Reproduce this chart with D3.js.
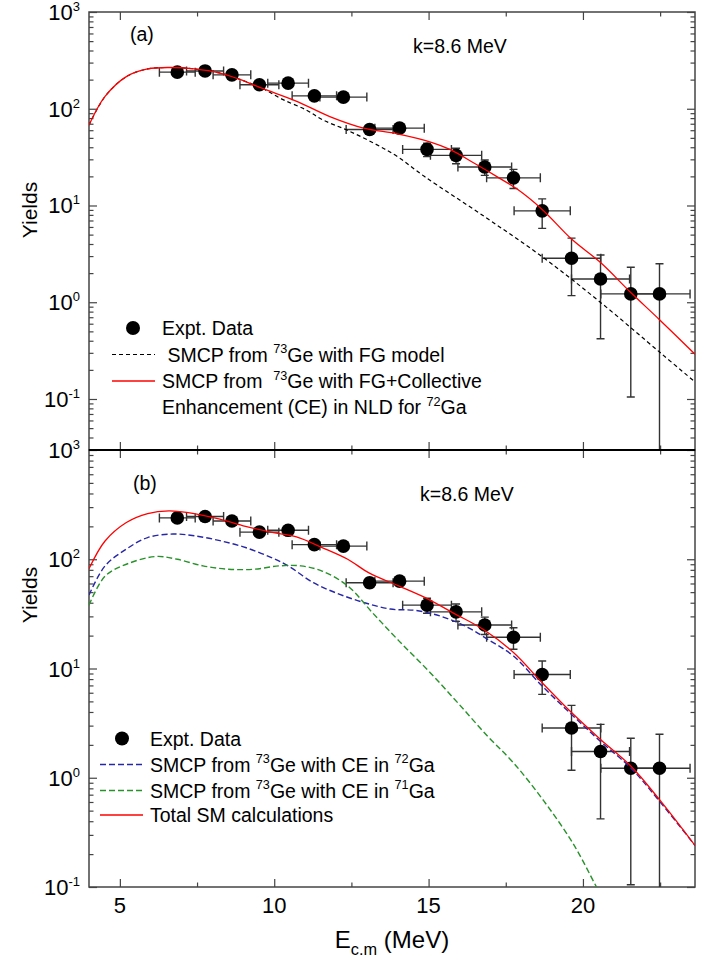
<!DOCTYPE html>
<html>
<head>
<meta charset="utf-8">
<script src="https://cdn.jsdelivr.net/npm/d3@7"></script>
<style>
  body { margin: 0; background: #fff; }
  text { font-family: "Liberation Sans", Arial, sans-serif; fill: #000; }
</style>
</head>
<body>
<div id="graph"></div>
<script>
// experimental points (same in both panels)
var energies  = [6.86, 7.76, 8.63, 9.52, 10.45, 11.30, 12.24, 13.09, 14.06, 14.95, 15.89, 16.82, 17.75, 18.68, 19.63, 20.57, 21.55, 22.48];
var yields    = [239, 246, 224, 177, 184, 136, 132, 61, 63, 38, 33, 25, 19.3, 8.8, 2.85, 1.74, 1.22, 1.22];
var energyErr = [0.58, 0.60, 0.61, 0.63, 0.66, 0.72, 0.76, 0.76, 0.80, 0.79, 0.83, 0.87, 0.87, 0.91, 0.95, 0.94, 0.97, 0.99];
var yieldLow  = [227, 234, 213, 167, 174, 128, 124, 55, 57, 32, 27, 20.5, 15, 5.8, 1.17, 0.42, 0.105, 0.01];
var yieldHigh = [251, 258, 235, 187, 194, 144, 140, 67, 69, 44, 39, 29.5, 23.6, 11.7, 4.6, 3.08, 2.3, 2.5];

// panel (a)
var fgE = [4.0, 4.52, 5.21, 5.9, 6.59, 7.41, 8.24, 8.93, 9.62, 10.27, 11.04, 11.58, 12.35, 13.23, 13.99, 14.87, 16.79, 18.72, 20.58, 22.51, 23.63];
var fgY = [68, 134, 215, 258, 267, 258, 234, 199, 162, 125, 97, 76.5, 60.3, 44, 32, 19.9, 7.76, 2.89, 0.99, 0.30, 0.15];
var fgCeE = [4.0, 4.52, 5.21, 5.9, 6.59, 7.41, 8.24, 8.93, 9.62, 10.71, 11.8, 12.9, 13.99, 15.09, 15.69, 16.51, 17.2, 17.89, 18.68, 19.63, 20.57, 21.55, 22.48, 23.63];
var fgCeY = [68, 134, 215, 258, 267, 258, 234, 199, 162, 120, 83, 63, 55, 45, 38, 27, 20, 14.6, 9.1, 4.5, 2.57, 1.26, 0.66, 0.29];

// panel (b)
var ce72E = [4.0, 4.52, 5.21, 5.9, 6.72, 7.41, 8.24, 9.07, 9.89, 10.45, 11.27, 12.1, 12.93, 13.76, 14.58, 15.41, 16.24, 16.93, 17.75, 18.68, 19.63, 20.57, 21.55, 22.48, 23.63];
var ce72Y = [47, 87, 124, 158, 170, 164, 148, 128, 104, 87, 61, 48, 40, 35, 34, 30, 24, 18.4, 13, 6.9, 3.8, 2.15, 1.23, 0.61, 0.24];
var ce71E = [4.0, 4.52, 5.21, 6.17, 6.86, 7.69, 8.52, 9.34, 10.17, 10.86, 11.55, 12.38, 13.2, 14.03, 15.0, 15.96, 16.93, 17.75, 18.72, 19.68, 20.44, 20.8];
var ce71Y = [38, 70, 90, 106, 100, 87, 81, 81, 87, 87, 78, 57, 32, 18, 9.5, 4.8, 2.37, 1.37, 0.62, 0.25, 0.1, 0.065];
var totalE = [4.0, 4.52, 5.21, 5.9, 6.59, 7.41, 8.24, 9.07, 9.89, 10.72, 11.55, 12.38, 13.07, 14.03, 15.0, 15.82, 16.79, 17.75, 18.68, 19.63, 20.57, 21.55, 22.48, 23.63];
var totalY = [82, 147, 217, 262, 277, 262, 233, 200, 177, 160, 128, 100, 75, 57, 43, 32, 22.6, 14, 7.4, 3.95, 2.24, 1.28, 0.63, 0.24];

var xMajor = [5, 10, 15, 20];
var xMinor = [7.5, 12.5, 17.5, 22.5];
var yExponents = [3, 2, 1, 0, -1];

var width = 710, height = 961,
    left = 89, right = 695,
    axisColor = "#444",
    fontSize = 19.5,
    font = fontSize + "px";

var svg = d3.select("#graph").append("svg")
    .attr("width", width)
    .attr("height", height);

var x = d3.scaleLinear().domain([4, 23.63]).range([left, right]);

function zip(es, ys) {
    return es.map(function (e, i) { return {e: e, y: ys[i]}; });
}

// text with superscript / subscript pieces: [["SMCP from "], ["73", "sup"], ...]
function richText(sel, parts, size) {
    parts.forEach(function (p) {
        var t = sel.append("tspan").text(p[0]);
        if (p[1] === "sup") t.attr("dy", -size * 0.42).style("font-size", (size * 0.65) + "px");
        else if (p[1] === "sub") t.attr("dy", size * 0.3).style("font-size", (size * 0.68) + "px");
        else if (p[1] === "back") t.attr("dy", size * 0.42);
        else if (p[1] === "up") t.attr("dy", -size * 0.3);
    });
    return sel;
}

function drawPanel(p) {
    var y = d3.scaleLog().domain(p.yDomain).range([p.bottom, p.top]);
    var g = svg.append("g");

    svg.append("clipPath").attr("id", "clip-" + p.name)
        .append("rect")
        .attr("x", left).attr("y", p.top)
        .attr("width", right - left).attr("height", p.bottom - p.top);

    // frame
    g.append("rect")
        .attr("x", left).attr("y", p.top)
        .attr("width", right - left).attr("height", p.bottom - p.top)
        .attr("fill", "none").attr("stroke", axisColor).attr("stroke-width", 1.5);

    // y ticks, inward on both sides
    var minor = [];
    for (var d = -2; d < 3; d++) {
        for (var m = 2; m < 10; m++) {
            var v = m * Math.pow(10, d);
            if (v >= p.yDomain[0] && v <= p.yDomain[1]) minor.push(v);
        }
    }
    var major = yExponents.map(function (k) { return Math.pow(10, k); });
    [[left, d3.axisLeft], [right, d3.axisRight]].forEach(function (s) {
        var a1 = g.append("g").attr("transform", "translate(" + s[0] + ",0)")
            .call(s[1](y).tickValues(major).tickSize(-8).tickSizeOuter(0).tickFormat(""));
        var a2 = g.append("g").attr("transform", "translate(" + s[0] + ",0)")
            .call(s[1](y).tickValues(minor).tickSize(-4.5).tickSizeOuter(0).tickFormat(""));
        [a1, a2].forEach(function (a) {
            a.select(".domain").remove();
            a.selectAll("line").attr("stroke", axisColor).attr("stroke-width", 1.2);
        });
    });

    // x ticks, inward on top and bottom
    [[p.top, d3.axisTop], [p.bottom, d3.axisBottom]].forEach(function (s) {
        var a1 = g.append("g").attr("transform", "translate(0," + s[0] + ")")
            .call(s[1](x).tickValues(xMajor).tickSize(-8).tickSizeOuter(0).tickFormat(""));
        var a2 = g.append("g").attr("transform", "translate(0," + s[0] + ")")
            .call(s[1](x).tickValues(xMinor).tickSize(-4.5).tickSizeOuter(0).tickFormat(""));
        [a1, a2].forEach(function (a) {
            a.select(".domain").remove();
            a.selectAll("line").attr("stroke", axisColor).attr("stroke-width", 1.2);
        });
    });

    // y tick labels 10^n
    g.selectAll(".ylab")
        .data(p.labels)
        .enter()
        .append("text")
        .attr("x", 80)
        .attr("y", function (k) { return y(Math.pow(10, k)) + 8; })
        .attr("text-anchor", "end")
        .style("font-size", "22px")
        .each(function (k) {
            var t = d3.select(this);
            t.append("tspan").text("10");
            t.append("tspan").text(k).attr("dy", -9).style("font-size", "13px");
        });

    // "Yields"
    g.append("text")
        .attr("transform", "translate(37," + p.titleY + ") rotate(-90)")
        .attr("text-anchor", "middle")
        .style("font-size", "21px")
        .text("Yields");

    g.append("text").attr("x", p.tagX).attr("y", p.tagY)
        .style("font-size", font).text(p.tag);
    g.append("text").attr("x", p.kX).attr("y", p.kY)
        .style("font-size", font).text("k=8.6 MeV");

    var plot = g.append("g").attr("clip-path", "url(#clip-" + p.name + ")");
    var pts = energies.map(function (e, i) {
        return {e: e, y: yields[i], dx: energyErr[i], lo: yieldLow[i], hi: yieldHigh[i]};
    });

    // error bars
    var bars = plot.selectAll(".bar").data(pts).enter().append("g")
        .attr("stroke", "#333").attr("stroke-width", 1.4).attr("fill", "none");
    bars.append("line")
        .attr("x1", function (d) { return x(d.e - d.dx); })
        .attr("x2", function (d) { return x(d.e + d.dx); })
        .attr("y1", function (d) { return y(d.y); })
        .attr("y2", function (d) { return y(d.y); });
    bars.append("path")
        .attr("d", function (d) {
            var yy = y(d.y);
            return "M" + x(d.e - d.dx) + "," + (yy - 4.5) + "V" + (yy + 4.5) +
                   "M" + x(d.e + d.dx) + "," + (yy - 4.5) + "V" + (yy + 4.5);
        });
    bars.append("line")
        .attr("x1", function (d) { return x(d.e); })
        .attr("x2", function (d) { return x(d.e); })
        .attr("y1", function (d) { return y(d.lo); })
        .attr("y2", function (d) { return y(d.hi); });
    bars.append("path")
        .attr("d", function (d) {
            var xx = x(d.e);
            return "M" + (xx - 4) + "," + y(d.lo) + "H" + (xx + 4) +
                   "M" + (xx - 4) + "," + y(d.hi) + "H" + (xx + 4);
        });

    plot.selectAll(".pt").data(pts).enter().append("circle")
        .attr("cx", function (d) { return x(d.e); })
        .attr("cy", function (d) { return y(d.y); })
        .attr("r", 6.8)
        .attr("fill", "#000");

    var line = d3.line()
        .x(function (d) { return x(d.e); })
        .y(function (d) { return y(d.y); })
        .curve(d3.curveCatmullRom.alpha(0.5));

    p.curves.forEach(function (c) {
        plot.append("path")
            .datum(c.data)
            .attr("fill", "none")
            .attr("stroke", c.color)
            .attr("stroke-width", c.width)
            .attr("stroke-dasharray", c.dash)
            .attr("d", line);
    });

    // legend
    var lg = g.append("g");
    lg.append("circle").attr("cx", p.legend.dotX).attr("cy", p.legend.dotY).attr("r", 7).attr("fill", "#000");
    lg.append("text").attr("x", p.legend.textX).attr("y", p.legend.dotY + 7)
        .style("font-size", font).text("Expt. Data");
    p.legend.rows.forEach(function (r) {
        if (r.curve) {
            lg.append("line")
                .attr("x1", p.legend.lineX[0]).attr("x2", p.legend.lineX[1])
                .attr("y1", r.y).attr("y2", r.y)
                .attr("stroke", r.curve.color)
                .attr("stroke-width", r.curve.width)
                .attr("stroke-dasharray", r.curve.dash);
        }
        richText(lg.append("text")
            .attr("x", p.legend.textX).attr("y", r.y + 7)
            .style("font-size", font).style("white-space", "pre"), r.parts, fontSize);
    });
}

var styleFG   = {color: "#000", width: 1.2, dash: "4,3"};
var styleCE   = {color: "#ff0000", width: 1.3, dash: null};
var style72   = {color: "#2626a6", width: 1.4, dash: "6,3"};
var style71   = {color: "#27922a", width: 1.4, dash: "6,3"};

drawPanel({
    name: "a", top: 12, bottom: 450, yDomain: [0.0297, 1000],
    labels: [3, 2, 1, 0, -1], titleY: 210,
    tag: "(a)", tagX: 130, tagY: 41, kX: 413, kY: 53,
    curves: [
        Object.assign({data: zip(fgE, fgY)}, styleFG),
        Object.assign({data: zip(fgCeE, fgCeY)}, styleCE)
    ],
    legend: {
        dotX: 133, dotY: 328, textX: 162, lineX: [112, 155],
        rows: [
            {y: 354.5, curve: styleFG, parts: [[" SMCP from "], ["73", "sup"], ["Ge with FG model", "back"]]},
            {y: 381, curve: styleCE, parts: [["SMCP from  "], ["73", "sup"], ["Ge with FG+Collective", "back"]]},
            {y: 407, curve: null, parts: [["Enhancement (CE) in NLD for "], ["72", "sup"], ["Ga", "back"]]}
        ]
    }
});

drawPanel({
    name: "b", top: 450, bottom: 887, yDomain: [0.1, 1000],
    labels: [3, 2, 1, 0, -1], titleY: 595,
    tag: "(b)", tagX: 133, tagY: 490, kX: 420, kY: 501,
    curves: [
        Object.assign({data: zip(ce72E, ce72Y)}, style72),
        Object.assign({data: zip(ce71E, ce71Y)}, style71),
        Object.assign({data: zip(totalE, totalY)}, styleCE)
    ],
    legend: {
        dotX: 122, dotY: 738.5, textX: 150, lineX: [100, 143],
        rows: [
            {y: 764.5, curve: style72, parts: [["SMCP from "], ["73", "sup"], ["Ge with CE in ", "back"], ["72", "sup"], ["Ga", "back"]]},
            {y: 790.5, curve: style71, parts: [["SMCP from "], ["73", "sup"], ["Ge with CE in ", "back"], ["71", "sup"], ["Ga", "back"]]},
            {y: 815, curve: styleCE, parts: [["Total SM calculations"]]}
        ]
    }
});

// panel divider
svg.append("line")
    .attr("x1", left).attr("x2", right)
    .attr("y1", 450).attr("y2", 450)
    .attr("stroke", "#000").attr("stroke-width", 2);

// x tick labels
svg.selectAll(".xlab")
    .data(xMajor)
    .enter()
    .append("text")
    .attr("x", function (d) { return x(d); })
    .attr("y", 913)
    .attr("text-anchor", "middle")
    .style("font-size", "22px")
    .text(function (d) { return d; });

richText(svg.append("text")
    .attr("x", 392).attr("y", 948)
    .attr("text-anchor", "middle")
    .style("font-size", "24px"),
    [["E"], ["c.m", "sub"], [" (MeV)", "up"]], 24);
</script>
</body>
</html>
